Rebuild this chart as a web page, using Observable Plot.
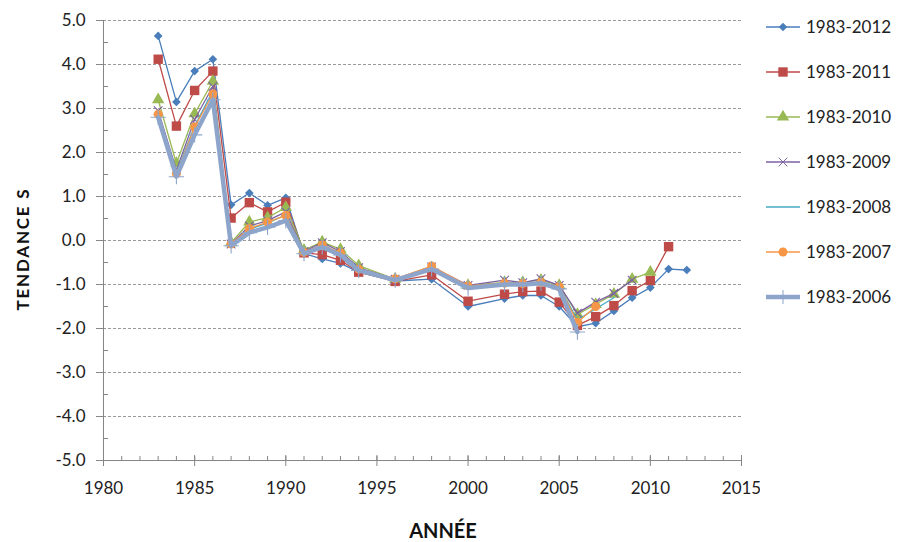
<!DOCTYPE html>
<html>
<head>
<meta charset="utf-8">
<script src="https://cdn.jsdelivr.net/npm/d3@7"></script>
<script src="https://cdn.jsdelivr.net/npm/@observablehq/plot@0.6"></script>
<style>
  body { margin: 0; background: #fff; font-family: Lato, "Open Sans", sans-serif; }
  #wrap { position: relative; width: 901px; height: 542px; overflow: hidden; }
  #chart { position: absolute; left: 0; top: 0; }
  #ytitle { position: absolute; left: 22px; top: 249px; transform: translate(-50%, -50%) rotate(-90deg);
            font-weight: bold; font-size: 17px; letter-spacing: 1.8px; white-space: nowrap; color: #111; }
  #xtitle { position: absolute; left: 443px; top: 530px; transform: translate(-50%, -50%);
            font-weight: bold; font-size: 20px; color: #111; }
  #legend { position: absolute; left: 765px; top: 4px; }
  .item { display: flex; align-items: center; height: 45px; font-size: 17px; color: #222; }
  .item svg { margin-right: 5px; }
</style>
</head>
<body>
<div id="wrap">
  <div id="chart"></div>
  <div id="ytitle">TENDANCE S</div>
  <div id="xtitle">ANNÉE</div>
  <div id="legend"></div>
</div>
<script>
// years with a value (1995, 1997, 1999, 2001 are missing)
const years = [1983, 1984, 1985, 1986, 1987, 1988, 1989, 1990, 1991, 1992, 1993, 1994,
  1996, 1998, 2000, 2002, 2003, 2004, 2005, 2006, 2007, 2008, 2009, 2010, 2011, 2012];

const s2012 = [4.65, 3.15, 3.85, 4.12, 0.81, 1.08, 0.80, 0.97, -0.30, -0.42, -0.52, -0.72,
  -0.92, -0.88, -1.50, -1.32, -1.25, -1.25, -1.50, -1.96, -1.88, -1.60, -1.30, -1.07, -0.65, -0.67];
const s2011 = [4.12, 2.60, 3.41, 3.85, 0.51, 0.86, 0.65, 0.87, -0.28, -0.32, -0.45, -0.72,
  -0.93, -0.78, -1.38, -1.22, -1.16, -1.15, -1.40, -1.93, -1.73, -1.48, -1.14, -0.91, -0.14];
const s2010 = [3.20, 1.75, 2.88, 3.62, -0.05, 0.42, 0.52, 0.75, -0.22, -0.03, -0.20, -0.57,
  -0.88, -0.62, -1.02, -0.95, -0.95, -0.90, -1.02, -1.68, -1.45, -1.22, -0.88, -0.72];
const s2009 = [2.95, 1.60, 2.75, 3.50, -0.08, 0.33, 0.45, 0.65, -0.25, -0.05, -0.25, -0.62,
  -0.88, -0.60, -1.02, -0.90, -0.96, -0.87, -1.02, -1.65, -1.40, -1.20, -0.90];
const s2008 = [2.85, 1.55, 2.60, 3.40, -0.10, 0.25, 0.40, 0.58, -0.28, -0.12, -0.30, -0.65,
  -0.88, -0.63, -1.05, -0.98, -0.98, -0.95, -1.05, -1.80, -1.55, -1.30];
const s2007 = [2.87, 1.52, 2.58, 3.33, -0.08, 0.27, 0.42, 0.57, -0.27, -0.10, -0.28, -0.65,
  -0.87, -0.58, -1.03, -0.97, -0.98, -0.95, -1.05, -1.86, -1.50];
const s2006 = [2.80, 1.45, 2.40, 3.20, -0.12, 0.18, 0.30, 0.45, -0.30, -0.15, -0.33, -0.68,
  -0.90, -0.65, -1.08, -1.00, -1.00, -0.97, -1.10, -2.08];

const seriesNames = ["1983-2012", "1983-2011", "1983-2010", "1983-2009", "1983-2008", "1983-2007", "1983-2006"];
const seriesValues = [s2012, s2011, s2010, s2009, s2008, s2007, s2006];

const yTicks = [-5, -4, -3, -2, -1, 0, 1, 2, 3, 4, 5];
const xTicks = [1980, 1985, 1990, 1995, 2000, 2005, 2010, 2015];

// look of each series (Excel 2007 default palette)
const styles = [
  {color: "#4a7ebb", width: 1.3, symbol: "diamond2", r: 3.9, filled: true},
  {color: "#be4b48", width: 1.3, symbol: "square", r: 5.3, filled: true},
  {color: "#98b954", width: 1.3, symbol: "triangle", r: 4.6, filled: true},
  {color: "#7d60a0", width: 1.3, symbol: "times", r: 4, filled: false},
  {color: "#46aac5", width: 1.3, symbol: null},
  {color: "#f79646", width: 1.3, symbol: "circle", r: 4.5, filled: true},
  {color: "#8ea5cb", width: 4.5, symbol: "plus", r: 5, filled: false}
];

const rows = seriesValues.map((vals, i) =>
  vals.map((v, j) => ({series: seriesNames[i], year: years[j], value: v})));

const noText = () => "";
const axisColor = "#868686";
const marks = [
  Plot.gridY(yTicks, {stroke: "#7f7f7f", strokeOpacity: 1, strokeDasharray: "3,2", strokeWidth: 0.8}),
  // minor y ticks point inward, major ones outward
  Plot.axisY(d3.range(-4.5, 5, 1), {tickSize: 5, dx: 5, tickFormat: noText, stroke: axisColor, label: null}),
  Plot.axisY(yTicks, {tickSize: 7, tickPadding: 11, tickFormat: d => d.toFixed(1), fontSize: 17, stroke: axisColor, fill: "#222", label: null}),
  // minor x ticks inward, major ones cross the axis
  Plot.axisX(d3.range(1980, 2016), {tickSize: 4, dy: -4, tickFormat: noText, stroke: axisColor, label: null}),
  Plot.axisX(xTicks, {tickSize: 11, dy: -5, tickFormat: noText, stroke: axisColor, label: null}),
  Plot.axisX(xTicks, {tickSize: 0, tickPadding: 21, tickFormat: d => String(d), fontSize: 17, fill: "#222", label: null}),
  Plot.ruleX([xTicks[0]], {stroke: axisColor}),
  Plot.ruleY([yTicks[0]], {stroke: axisColor})
];

rows.forEach((data, i) => {
  const st = styles[i];
  marks.push(Plot.line(data, {x: "year", y: "value", stroke: st.color, strokeWidth: st.width, curve: "linear"}));
  if (st.symbol) {
    marks.push(Plot.dot(data, st.filled
      ? {x: "year", y: "value", symbol: () => st.symbol, r: st.r, fill: st.color, stroke: "none"}
      : {x: "year", y: "value", symbol: () => st.symbol, r: st.r, stroke: st.color, strokeWidth: 1.1, fill: "none"}));
  }
});

const chart = Plot.plot({
  width: 760,
  height: 542,
  marginLeft: 103,
  marginRight: 19,
  marginTop: 20,
  marginBottom: 82,
  style: {fontFamily: "Lato, 'Open Sans', sans-serif", fontSize: "17px", background: "white"},
  x: {domain: [1980, 2015], axis: null},
  y: {domain: [-5, 5], axis: null},
  symbol: {type: "identity"},
  marks
});
document.getElementById("chart").append(chart);

// legend with small swatches
const symbolTypes = {diamond2: d3.symbolDiamond2, square: d3.symbolSquare, triangle: d3.symbolTriangle,
  times: d3.symbolTimes, circle: d3.symbolCircle, plus: d3.symbolPlus};
const legend = d3.select("#legend");
seriesNames.forEach((name, i) => {
  const st = styles[i];
  const item = legend.append("div").attr("class", "item");
  const svg = item.append("svg").attr("width", 36).attr("height", 14);
  svg.append("line").attr("x1", 1).attr("x2", 35).attr("y1", 7).attr("y2", 7)
    .attr("stroke", st.color).attr("stroke-width", st.width);
  if (st.symbol) {
    svg.append("path").attr("transform", "translate(18,7)")
      .attr("d", d3.symbol(symbolTypes[st.symbol], Math.PI * st.r * st.r)())
      .attr("fill", st.filled ? st.color : "none")
      .attr("stroke", st.filled ? "none" : st.color);
  }
  item.append("span").text(name);
});
</script>
</body>
</html>
